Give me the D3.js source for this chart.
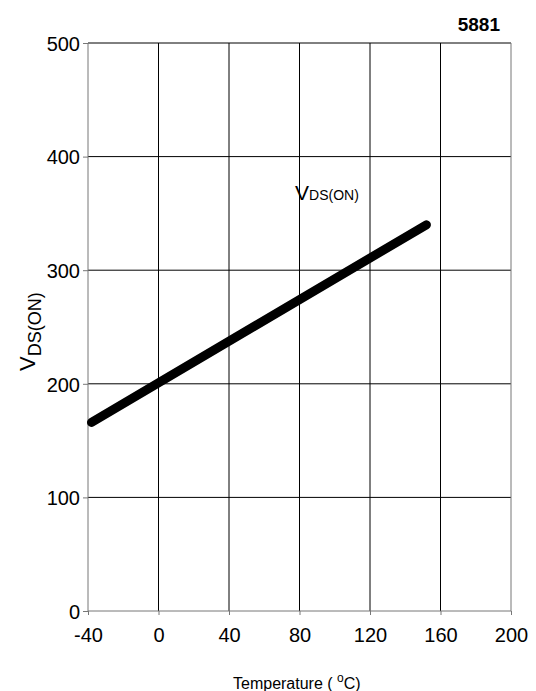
<!DOCTYPE html>
<html>
<head>
<meta charset="utf-8">
<script src="https://cdn.jsdelivr.net/npm/d3@7"></script>
<style>
  body { margin: 0; background: #fff; }
  text { font-family: 'Liberation Sans', Arial, sans-serif; fill: #000; }
</style>
</head>
<body>
<div id="chart"></div>
<script>
'use strict'

// data
const temps = [-38, 152]
const vdsOn = [166, 340]
const xTicks = [-40, 0, 40, 80, 120, 160, 200]
const yTicks = [0, 100, 200, 300, 400, 500]

const width = 536
const height = 691
const margin = { top: 43, right: 25, bottom: 80, left: 88 }

const svg = d3.select('#chart')
  .append('svg')
  .attr('width', width)
  .attr('height', height)

const x = d3.scaleLinear().domain([-40, 200]).range([margin.left, width - margin.right])
const y = d3.scaleLinear().domain([0, 500]).range([height - margin.bottom, margin.top])

// grid
svg.append('g')
  .selectAll('line.vgrid')
  .data(xTicks.slice(1, -1))
  .enter()
  .append('line')
  .attr('x1', d => x(d)).attr('x2', d => x(d))
  .attr('y1', y(0)).attr('y2', y(500))
  .attr('stroke', '#000')
  .attr('stroke-width', 1)
svg.append('g')
  .selectAll('line.hgrid')
  .data(yTicks.slice(1))
  .enter()
  .append('line')
  .attr('x1', x(-40)).attr('x2', x(200))
  .attr('y1', d => y(d)).attr('y2', d => y(d))
  .attr('stroke', '#000')
  .attr('stroke-width', 1)

// frame (left, bottom, right)
svg.append('line')
  .attr('x1', x(-40)).attr('x2', x(-40))
  .attr('y1', y(0)).attr('y2', y(500))
  .attr('stroke', '#777')
svg.append('line')
  .attr('x1', x(200)).attr('x2', x(200))
  .attr('y1', y(0)).attr('y2', y(500))
  .attr('stroke', '#777')
svg.append('line')
  .attr('x1', x(-40)).attr('x2', x(200))
  .attr('y1', y(0)).attr('y2', y(0))
  .attr('stroke', '#777')

// axes
const xAxis = svg.append('g')
  .attr('transform', `translate(0,${y(0)})`)
  .call(d3.axisBottom(x).tickValues(xTicks).tickFormat(d => String(d)).tickSize(4).tickPadding(13))
xAxis.select('.domain').remove()
xAxis.selectAll('line').attr('stroke', '#777')
xAxis.selectAll('text').attr('font-size', 20).attr('fill', '#000')

const yAxis = svg.append('g')
  .attr('transform', `translate(${x(-40)},0)`)
  .call(d3.axisLeft(y).tickValues(yTicks).tickFormat(d => String(d)).tickSize(5).tickPadding(3))
yAxis.select('.domain').remove()
yAxis.selectAll('line').attr('stroke', '#777')
yAxis.selectAll('text').attr('font-size', 20).attr('fill', '#000').attr('dy', '0.36em')

// series
const line = d3.line()
  .x(d => x(d[0]))
  .y(d => y(d[1]))
svg.append('path')
  .datum(d3.zip(temps, vdsOn))
  .attr('d', line)
  .attr('fill', 'none')
  .attr('stroke', '#000')
  .attr('stroke-width', 9)
  .attr('stroke-linecap', 'round')

// series label
const lbl = svg.append('text')
  .attr('x', 295)
  .attr('y', 200)
lbl.append('tspan').attr('font-size', 21).text('V')
lbl.append('tspan').attr('font-size', 14).text('DS(ON)')

// y axis title
const yt = svg.append('text')
  .attr('transform', 'translate(35,371) rotate(-90)')
yt.append('tspan').attr('font-size', 22).text('V')
yt.append('tspan').attr('font-size', 18).attr('dy', 6).text('DS(ON)')

// x axis title
const xt = svg.append('text')
  .attr('x', 233)
  .attr('y', 689)
xt.append('tspan').attr('font-size', 16).text('Temperature ( ')
xt.append('tspan').attr('font-size', 12).attr('dy', -7).text('o')
xt.append('tspan').attr('font-size', 16).attr('dy', 7).text('C)')

// part number
svg.append('text')
  .attr('x', 500)
  .attr('y', 31)
  .attr('text-anchor', 'end')
  .attr('font-size', 19)
  .attr('font-weight', 'bold')
  .text('5881')
</script>
</body>
</html>
